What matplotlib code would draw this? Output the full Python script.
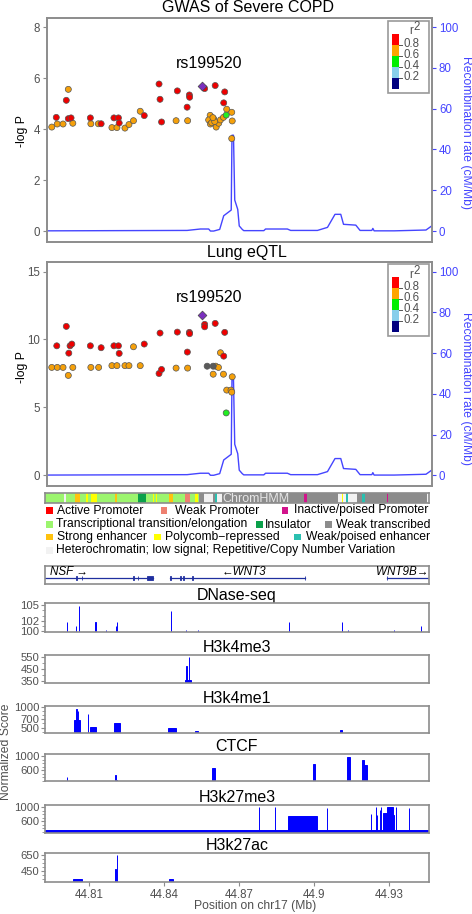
import matplotlib.pyplot as plt
from matplotlib.patches import Rectangle
from matplotlib.ticker import MultipleLocator

plt.rcParams["font.family"] = ["Liberation Sans", "DejaVu Sans"]

W, H = 472, 914
XMIN, XMAX = 44.7923, 44.9459

# ---- association data (Mb, -log10 P, r2 bin: 4 >=0.8, 3 0.6-0.8, 2 0.4-0.6, -1 no LD) ----
gwas_pos = [44.7942, 44.7964, 44.7987, 44.8026, 44.8098, 44.8128, 44.8182, 44.8202, 44.8234, 44.8250,
            44.8268, 44.8295, 44.8438, 44.8484, 44.8574, 44.8568, 44.8575, 44.8588, 44.8598, 44.8608,
            44.8615, 44.8627, 44.8640, 44.8660, 44.8662, 44.8660, 44.8008, 44.8580, 44.8592, 44.8585,
            44.7960, 44.8000, 44.8008, 44.8019, 44.8096, 44.8139, 44.8190, 44.8208, 44.8211, 44.8311,
            44.8370, 44.8374, 44.8380, 44.8443, 44.8482, 44.8491, 44.8492, 44.8552, 44.8594, 44.8632,
            44.8628, 44.8638]
gwas_logp = [4.08, 4.20, 4.20, 4.23, 4.21, 4.21, 4.06, 4.06, 4.04, 4.18,
             4.33, 4.70, 4.33, 4.33, 4.54, 4.36, 4.20, 4.40, 4.08, 4.23,
             4.36, 4.46, 4.78, 4.66, 4.32, 3.63, 5.56, 4.25, 4.30, 4.45,
             4.46, 5.13, 4.41, 4.44, 4.44, 4.21, 4.44, 4.44, 4.24, 4.53,
             5.77, 5.17, 4.28, 5.50, 4.86, 5.34, 5.25, 5.59, 5.71, 5.46,
             5.03, 4.55]
gwas_bin = [3] * 30 + [4] * 21 + [2]
gwas_lead = (44.8543, 5.71)

eqtl_pos = [44.7942, 44.7964, 44.7987, 44.8008, 44.8026, 44.8098, 44.8129, 44.8182, 44.8202, 44.8234,
            44.8250, 44.8268, 44.8295, 44.8438, 44.8484, 44.8615, 44.8596, 44.8607, 44.8586, 44.8627,
            44.8640, 44.8657, 44.8660, 44.8662, 44.8562, 44.8586,
            44.7962, 44.8000, 44.8010, 44.8015, 44.8022, 44.8096, 44.8139, 44.8190, 44.8208, 44.8211,
            44.8311, 44.8374, 44.8370, 44.8380, 44.8443, 44.8483, 44.8491, 44.8492, 44.8552, 44.8552,
            44.8594, 44.8632, 44.8628, 44.8638]
eqtl_logp = [7.94, 7.94, 7.94, 7.35, 7.94, 7.94, 7.94, 8.07, 8.07, 8.07,
             8.07, 9.46, 8.07, 7.89, 7.89, 9.02, 8.03, 7.94, 7.44, 7.44,
             6.27, 6.27, 6.12, 7.25, 8.03, 8.03,
             9.53, 10.96, 8.99, 9.53, 9.66, 9.53, 9.39, 9.53, 9.53, 8.97,
             9.66, 10.47, 7.49, 7.79, 10.54, 9.07, 10.52, 10.42, 11.11, 10.93,
             11.18, 10.52, 8.77, 4.59]
eqtl_bin = [3] * 24 + [-1] * 2 + [4] * 23 + [2]
eqtl_lead = (44.8543, 11.82)

recomb_pos = [44.7923, 44.8482, 44.8535, 44.8568, 44.8575, 44.8588, 44.8612, 44.8628, 44.8658, 44.8661,
              44.8667, 44.8672, 44.8684, 44.8690, 44.8702, 44.8708, 44.8788, 44.8795, 44.8882, 44.8895,
              44.9002, 44.9042, 44.9072, 44.9095, 44.9106, 44.9155, 44.9172, 44.9219, 44.9223, 44.9228,
              44.9308, 44.9435, 44.9459]
recomb_rate = [0.1, 0.3, 1.0, 1.0, 0.0, 0.0, 0.8, 7.5, 10.3, 47.0,
               47.0, 15.2, 10.6, 2.5, 0.8, 0.2, 0.2, 1.0, 1.0, 0.3,
               0.3, 1.8, 8.2, 8.2, 3.3, 2.9, 0.3, 0.3, 1.3, 0.1,
               0.1, 0.5, 2.6]

r2_labels = ["0.8", "0.6", "0.4", "0.2"]
r2_colors = ["#ff0000", "#ffa500", "#00ee00", "#87ceeb", "#000080"]
bin_colors = {4: "#ee0000", 3: "#f5a00a", 2: "#22ee22", -1: "#5a5a5a"}

# ---- ChromHMM ----
hmm_names = ["Active Promoter", "Weak Promoter", "Inactive/poised Promoter",
             "Transcriptional transition/elongation", "Insulator", "Weak transcribed",
             "Strong enhancer", "Polycomb\u2212repressed", "Weak/poised enhancer",
             "Heterochromatin; low signal; Repetitive/Copy Number Variation"]
hmm_colors = ["#ff0000", "#ee8070", "#d2148c", "#9cf56e", "#0aa04a", "#8c8c8c",
              "#ffc20e", "#ffff00", "#2ac0b0", "#f2f2f2"]
# (start, end, state index)
chromhmm = [(44.7923, 44.8000, 3), (44.8000, 44.8006, 9), (44.8006, 44.8043, 3), (44.8043, 44.8063, 6),
            (44.8063, 44.8087, 3), (44.8087, 44.8096, 7), (44.8096, 44.8106, 3), (44.8106, 44.8130, 7),
            (44.8130, 44.8204, 3), (44.8204, 44.8212, 6), (44.8212, 44.8294, 3), (44.8294, 44.8327, 4),
            (44.8327, 44.8354, 3), (44.8354, 44.8359, 7), (44.8359, 44.8366, 3), (44.8366, 44.8370, 7),
            (44.8370, 44.8420, 3), (44.8420, 44.8434, 6), (44.8434, 44.8483, 3), (44.8483, 44.8503, 1),
            (44.8503, 44.8523, 3), (44.8523, 44.8536, 7), (44.8536, 44.8540, 3), (44.8540, 44.8559, 5),
            (44.8559, 44.8596, 9), (44.8596, 44.8603, 5), (44.8603, 44.8610, 8), (44.8610, 44.8630, 9),
            (44.8630, 44.8959, 5), (44.8959, 44.8970, 2), (44.8970, 44.9096, 5), (44.9096, 44.9110, 9),
            (44.9110, 44.9116, 7), (44.9116, 44.9126, 9), (44.9126, 44.9136, 8), (44.9136, 44.9170, 9),
            (44.9170, 44.9190, 5), (44.9190, 44.9203, 8), (44.9203, 44.9290, 5), (44.9290, 44.9296, 2),
            (44.9296, 44.9450, 5), (44.9450, 44.9459, 9)]

# ---- genes: (label, start, end, exons) ----
genes = [("NSF \u2192", 44.7900, 44.8355, [(44.8046, 44.8049), (44.8069, 44.8072), (44.8275, 44.8278),
                                           (44.8293, 44.8296), (44.8330, 44.8354)]),
         ("\u2190WNT3", 44.8423, 44.8963, [(44.8421, 44.8425), (44.8461, 44.8465), (44.8474, 44.8478),
                                            (44.8512, 44.8516), (44.8961, 44.8964)]),
         ("WNT9B\u2192", 44.9290, 44.9500, [(44.9289, 44.9292)])]

# ---- epigenomic peaks: (start, end, score) ----
dnase = [(44.8009, 44.8011, 101.8), (44.8045, 44.8047, 101.1), (44.8057, 44.8059, 104.9),
         (44.8123, 44.8125, 101.8), (44.8166, 44.8168, 100.3), (44.8205, 44.8207, 101.1),
         (44.8209, 44.8211, 101.8), (44.8426, 44.8428, 103.8), (44.8486, 44.8488, 100.3),
         (44.8534, 44.8536, 100.3), (44.8898, 44.8900, 101.8), (44.9111, 44.9113, 101.8),
         (44.9135, 44.9137, 100.3), (44.9317, 44.9319, 100.3), (44.9426, 44.9428, 101.1)]
h3k4me3 = [(44.8483, 44.8506, 362), (44.8485, 44.8489, 474), (44.8497, 44.8500, 550)]
h3k4me1 = [(44.8039, 44.8063, 682), (44.8047, 44.8049, 960), (44.8053, 44.8055, 897),
           (44.8094, 44.8096, 841), (44.8103, 44.8127, 524), (44.8200, 44.8222, 619),
           (44.8414, 44.8446, 484), (44.8523, 44.8535, 421), (44.9103, 44.9111, 429)]
ctcf = [(44.8010, 44.8012, 405), (44.8203, 44.8205, 460), (44.8207, 44.8209, 330),
        (44.8592, 44.8602, 656), (44.8996, 44.9004, 767), (44.9132, 44.9142, 981),
        (44.9190, 44.9200, 888), (44.9200, 44.9210, 749)]
h3k27me3 = [(44.7900, 44.9500, 343), (44.8777, 44.8779, 990), (44.8842, 44.8844, 990),
            (44.8896, 44.9012, 733), (44.9050, 44.9052, 971), (44.9227, 44.9229, 800),
            (44.9245, 44.9247, 990), (44.9249, 44.9251, 771), (44.9263, 44.9265, 914),
            (44.9266, 44.9268, 990), (44.9276, 44.9290, 838), (44.9290, 44.9314, 990),
            (44.9315, 44.9317, 771), (44.9327, 44.9329, 990), (44.9377, 44.9379, 971)]
h3k27ac = [(44.8036, 44.8070, 348), (44.8203, 44.8205, 480), (44.8209, 44.8211, 650),
           (44.8420, 44.8433, 356)]

x_ticks = [44.81, 44.84, 44.87, 44.90, 44.93]
x_ticklabels = ["44.81", "44.84", "44.87", "44.9", "44.93"]

BLUE = "#0000ff"
RBLUE = "#4545ff"
GRAY = "#8c8c8c"
TXT = "#505050"
GENE = "#1f2f9f"

fig = plt.figure(figsize=(W / 100, H / 100), dpi=100)
fig.set_facecolor("white")


def box(l, t, r, b):
    return [l / W, 1 - b / H, (r - l) / W, (b - t) / H]


def frame(ax):
    for s in ax.spines.values():
        s.set_color(GRAY)
        s.set_linewidth(1.2)


def assoc_panel(top, bottom, pos, logp, bins, lead, ylim, yticks, label_y, scale):
    ax = fig.add_axes(box(47, top, 432, bottom))
    axr = ax.twinx()
    axr.plot(recomb_pos, recomb_rate, color=RBLUE, lw=1)
    axr.set_ylim(ylim[0] * scale, ylim[1] * scale)
    axr.set_yticks([0, 20, 40, 60, 80, 100])
    axr.tick_params(axis="y", colors=RBLUE, labelsize=8.3, length=3, pad=2)
    ax.set_zorder(axr.get_zorder() + 1)
    ax.patch.set_visible(False)
    ax.scatter(pos, logp, c=[bin_colors[b] for b in bins], s=19,
               edgecolors="#555555", linewidths=0.5, zorder=3)
    ax.scatter([lead[0]], [lead[1]], marker="D", c="#7b2fbe", s=20,
               edgecolors="#444444", linewidths=0.5, zorder=4)
    ax.text(lead[0] + 0.0025, label_y, "rs199520", ha="center", va="center", fontsize=11.5)
    ax.set_xlim(XMIN, XMAX)
    ax.set_ylim(*ylim)
    ax.set_yticks(yticks)
    ax.set_xticks([])
    ax.tick_params(axis="y", colors=GRAY, labelcolor=TXT, labelsize=8.3, length=3, pad=2)
    frame(ax)
    frame(axr)
    return ax


assoc_panel(18, 242, gwas_pos, gwas_logp, gwas_bin, gwas_lead, (-0.43, 8.36), [0, 2, 4, 6, 8], 6.56, 12.5)
assoc_panel(262, 486, eqtl_pos, eqtl_logp, eqtl_bin, eqtl_lead, (-0.79, 15.7), [0, 5, 10, 15], 13.1, 100 / 15)

# ChromHMM bar
axc = fig.add_axes(box(45, 493, 429, 503))
axc.bar([s for s, e, k in chromhmm], 1, width=[e - s for s, e, k in chromhmm], align="edge",
        color=[hmm_colors[k] for s, e, k in chromhmm], linewidth=0)
axc.text(44.8768, 0.45, "ChromHMM", ha="center", va="center", fontsize=9, color="#e6e6e6")
axc.set_xlim(XMIN, XMAX)
axc.set_ylim(0, 1)
axc.set_xticks([])
axc.set_yticks([])
frame(axc)

# gene track
axg = fig.add_axes(box(45, 566, 429, 584))
for label, start, end, exons in genes:
    axg.plot([start, end], [0.32, 0.32], color=GENE, lw=0.9)
    for es, ee in exons:
        axg.add_patch(Rectangle((es, 0.2), ee - es, 0.24, color=GENE, lw=0.6))
label_x = [(44.7943, "left"), (44.8630, "left"), (44.9455, "right")]
for (label, start, end, exons), (lx, ha) in zip(genes, label_x):
    axg.text(lx, 0.68, label, style="italic", fontsize=8.4, va="center", ha=ha)
axg.set_xlim(XMIN, XMAX)
axg.set_ylim(0, 1)
axg.set_xticks([])
axg.set_yticks([])
frame(axg)

tracks = [("DNase-seq", dnase, 603, 632, (99.86, 105.4), [100, 102, 105], 1),
          ("H3k4me3", h3k4me3, 655, 683, (336, 567), [350, 450, 550], 50),
          ("H3k4me1", h3k4me1, 706, 733, (367, 1024), [500, 700, 1000], 100),
          ("CTCF", ctcf, 754, 781, (293, 1056), [600, 1000], 100),
          ("H3k27me3", h3k27me3, 805, 833, (266, 1057), [600, 1000], 100),
          ("H3k27ac", h3k27ac, 853, 882, (314, 675), [450, 650], 50)]

ov = fig.add_axes([0, 0, 1, 1])
ov.set_xlim(0, W)
ov.set_ylim(H, 0)
ov.axis("off")

for i, (name, peaks, top, bottom, ylim, yt, minor) in enumerate(tracks):
    ax = fig.add_axes(box(45, top, 429, bottom))
    ax.bar([s for s, e, v in peaks], [v - ylim[0] for s, e, v in peaks],
           width=[e - s for s, e, v in peaks], bottom=ylim[0],
           align="edge", color=BLUE, edgecolor=BLUE, linewidth=0.7)
    ax.set_xlim(XMIN, XMAX)
    ax.set_ylim(*ylim)
    ax.set_yticks(yt)
    ax.yaxis.set_minor_locator(MultipleLocator(minor))
    ax.tick_params(axis="y", which="both", colors=GRAY, labelcolor=TXT, labelsize=8.1, pad=1)
    ax.tick_params(axis="y", which="major", length=3)
    ax.tick_params(axis="y", which="minor", length=2)
    frame(ax)
    if i == len(tracks) - 1:
        ax.set_xticks(x_ticks)
        ax.set_xticklabels(x_ticklabels)
        ax.tick_params(axis="x", colors=GRAY, labelcolor=TXT, labelsize=8.3, length=3, pad=2)
    else:
        ax.set_xticks([])
    ov.text(237, top - 7.5, name, ha="center", va="center", fontsize=11.5)

# free text
ov.text(248, 8, "GWAS of Severe COPD", ha="center", va="center", fontsize=11.5)
ov.text(247, 252, "Lung eQTL", ha="center", va="center", fontsize=11.5)
for yc in (131, 367):
    ov.text(21.5, yc, "-log P", rotation=90, ha="center", va="center", fontsize=8.7)
for yc in (132, 389):
    ov.text(465.5, yc, "Recombination rate (cM/Mb)", rotation=270, ha="center", va="center",
            fontsize=8.7, color=RBLUE)
ov.text(6, 752, "Normalized Score", rotation=90, ha="center", va="center", fontsize=8.7, color=TXT)
ov.text(255, 906.5, "Position on chr17 (Mb)", ha="center", va="center", fontsize=8.7, color=TXT)

# r2 legends
for dy in (0, 243):
    ov.add_patch(Rectangle((388, 21 + dy), 40.5, 72, fill=False, edgecolor="#999999", lw=1.2))
    for k, c in enumerate(r2_colors):
        ov.add_patch(Rectangle((392, 34.3 + dy + 11 * k), 7, 11, color=c, lw=0))
    for k, lab in enumerate(r2_labels):
        yb = 34.3 + dy + 11 * (k + 1)
        ov.plot([399, 402], [yb, yb], color="#555555", lw=0.7)
        ov.text(403, yb - 1.5, lab, ha="left", va="center", fontsize=8.3, color=TXT)
    ov.text(411, 31.5 + dy, "r", ha="center", va="center", fontsize=8.3, color=TXT)
    ov.text(417, 27.5 + dy, "2", ha="center", va="center", fontsize=8.3, color=TXT)

# ChromHMM legend layout: (square x, text x, row y)
hmm_layout = [(49.5, 57, 510.5), (164, 175, 510.5), (285, 294, 510.5),
              (49.5, 56, 524.5), (259.5, 265, 524.5), (328.5, 336, 524.5),
              (49.5, 57, 537), (157.5, 164.5, 537), (297.5, 306, 537),
              (49.5, 56.5, 550.5)]
for (sx, tx, ty), nm, col in zip(hmm_layout, hmm_names, hmm_colors):
    ov.add_patch(Rectangle((sx - 3.2, ty - 3.2), 6.4, 6.4, color=col, lw=0))
    ov.text(tx, ty, nm, ha="left", va="center", fontsize=8.7)

fig.savefig("out.png", dpi=100, facecolor="white")
